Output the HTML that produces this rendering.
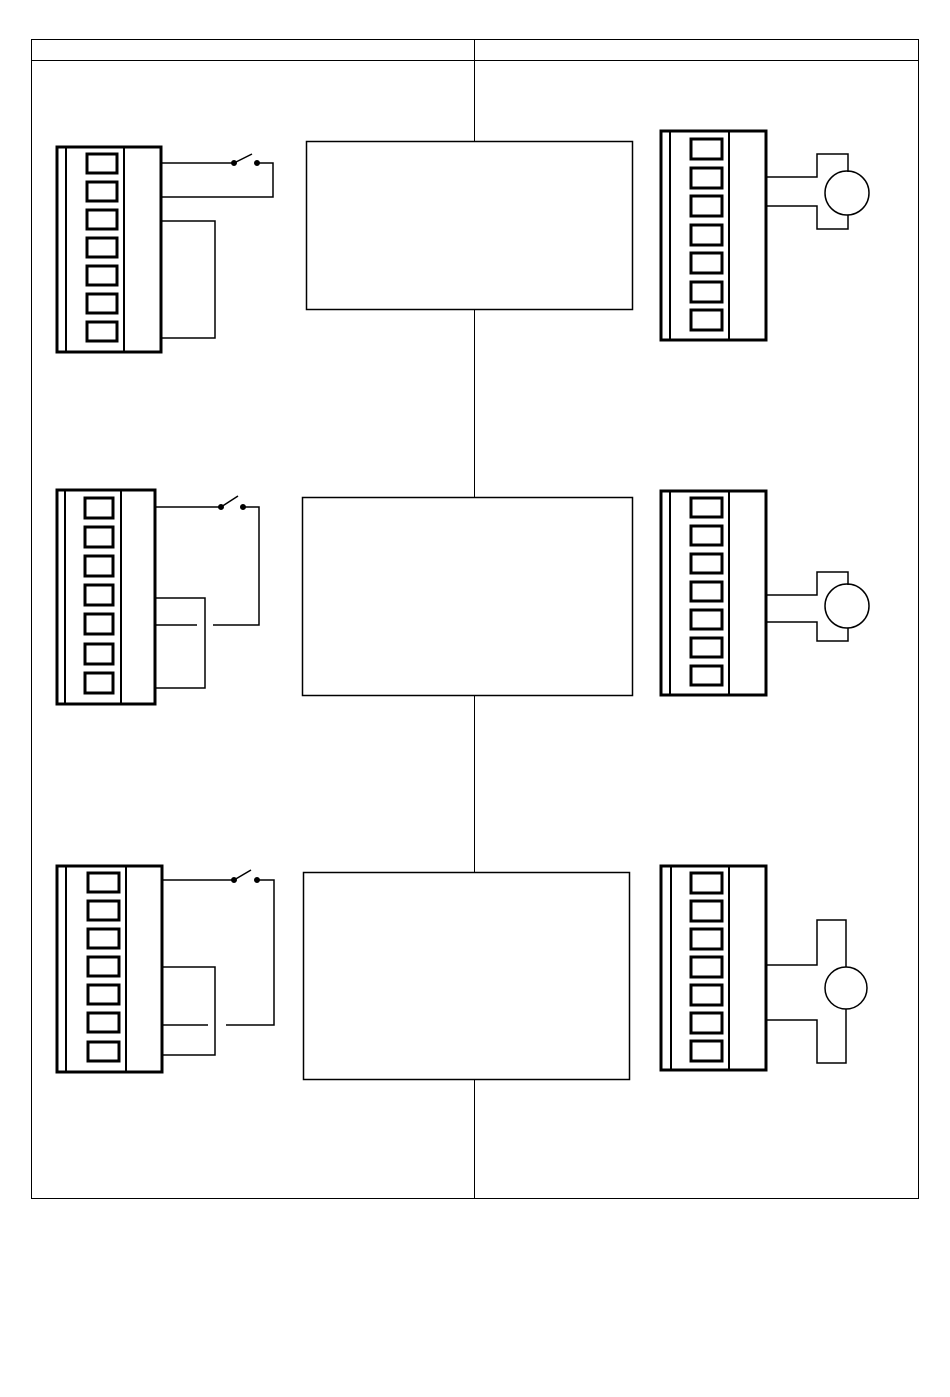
<!DOCTYPE html>
<html><head><meta charset="utf-8"><style>
html,body{margin:0;padding:0;background:#fff;}
svg{display:block;}
</style></head><body>
<svg width="950" height="1397" viewBox="0 0 950 1397" xmlns="http://www.w3.org/2000/svg" fill="none" stroke="#000">
<!-- frame -->
<rect x="31.5" y="39.5" width="887" height="1159" stroke-width="1"/>
<line x1="31" y1="60.5" x2="918" y2="60.5" stroke-width="1"/>
<line x1="474.5" y1="39" x2="474.5" y2="141" stroke-width="1"/>
<line x1="474.5" y1="309" x2="474.5" y2="497" stroke-width="1"/>
<line x1="474.5" y1="695" x2="474.5" y2="872" stroke-width="1"/>
<line x1="474.5" y1="1079" x2="474.5" y2="1198" stroke-width="1"/>
<!-- center boxes -->
<rect x="306.5" y="141.5" width="326" height="168" stroke-width="1.5"/>
<rect x="302.5" y="497.5" width="330" height="198" stroke-width="1.5"/>
<rect x="303.5" y="872.5" width="326" height="207" stroke-width="1.5"/>

<!-- LEFT BLOCK 1 -->
<g stroke-width="3">
<rect x="57" y="147" width="104" height="205"/>
<line x1="66" y1="147" x2="66" y2="352" stroke-width="2"/>
<line x1="124" y1="147" x2="124" y2="352" stroke-width="2"/>
</g>
<g stroke-width="3">
<rect x="87" y="154" width="30" height="19"/><rect x="87" y="182" width="30" height="19"/>
<rect x="87" y="210" width="30" height="19"/><rect x="87" y="238" width="30" height="19"/>
<rect x="87" y="266" width="30" height="19"/><rect x="87" y="294" width="30" height="19"/>
<rect x="87" y="322" width="30" height="19"/>
</g>
<g stroke-width="1.5">
<polyline points="162,163 234,163"/>
<line x1="234" y1="163" x2="252" y2="154"/>
<polyline points="257,163 273,163 273,197 162,197"/>
<polyline points="162,221 215,221 215,338 162,338"/>
</g>
<circle cx="234" cy="163" r="2.5" fill="#000"/><circle cx="257" cy="163" r="2.5" fill="#000"/>

<!-- LEFT BLOCK 2 -->
<g stroke-width="3">
<rect x="57" y="490" width="98" height="214"/>
<line x1="65" y1="490" x2="65" y2="704" stroke-width="2"/>
<line x1="121" y1="490" x2="121" y2="704" stroke-width="2"/>
</g>
<g stroke-width="3">
<rect x="85" y="498" width="28" height="20"/><rect x="85" y="527" width="28" height="20"/>
<rect x="85" y="556" width="28" height="20"/><rect x="85" y="585" width="28" height="20"/>
<rect x="85" y="614" width="28" height="20"/><rect x="85" y="644" width="28" height="20"/>
<rect x="85" y="673" width="28" height="20"/>
</g>
<g stroke-width="1.5">
<polyline points="156,507 221,507"/>
<line x1="221" y1="507" x2="238" y2="496"/>
<polyline points="243,507 259,507 259,625 213,625"/>
<polyline points="156,598 205,598 205,688 156,688"/>
<line x1="156" y1="625" x2="197" y2="625"/>
</g>
<circle cx="221" cy="507" r="2.5" fill="#000"/><circle cx="243" cy="507" r="2.5" fill="#000"/>

<!-- LEFT BLOCK 3 -->
<g stroke-width="3">
<rect x="57" y="866" width="105" height="206"/>
<line x1="66" y1="866" x2="66" y2="1072" stroke-width="2"/>
<line x1="126" y1="866" x2="126" y2="1072" stroke-width="2"/>
</g>
<g stroke-width="3">
<rect x="88" y="873" width="31" height="19"/><rect x="88" y="901" width="31" height="19"/>
<rect x="88" y="929" width="31" height="19"/><rect x="88" y="957" width="31" height="19"/>
<rect x="88" y="985" width="31" height="19"/><rect x="88" y="1013" width="31" height="19"/>
<rect x="88" y="1042" width="31" height="19"/>
</g>
<g stroke-width="1.5">
<polyline points="163,880 234,880"/>
<line x1="234" y1="880" x2="251" y2="870"/>
<polyline points="257,880 274,880 274,1025 226,1025"/>
<polyline points="163,967 215,967 215,1055 163,1055"/>
<line x1="163" y1="1025" x2="208" y2="1025"/>
</g>
<circle cx="234" cy="880" r="2.5" fill="#000"/><circle cx="257" cy="880" r="2.5" fill="#000"/>

<!-- RIGHT BLOCK 1 -->
<g stroke-width="3">
<rect x="661" y="131" width="105" height="209"/>
<line x1="670" y1="131" x2="670" y2="340" stroke-width="2"/>
<line x1="729" y1="131" x2="729" y2="340" stroke-width="2"/>
</g>
<g stroke-width="3">
<rect x="691" y="139" width="31" height="20"/><rect x="691" y="168" width="31" height="20"/>
<rect x="691" y="196" width="31" height="20"/><rect x="691" y="225" width="31" height="20"/>
<rect x="691" y="253" width="31" height="20"/><rect x="691" y="282" width="31" height="20"/>
<rect x="691" y="310" width="31" height="20"/>
</g>
<g stroke-width="1.5">
<polyline points="766,177 817,177 817,154 848,154 848,172"/>
<polyline points="766,206 817,206 817,229 848,229 848,215"/>
<circle cx="847" cy="193" r="22"/>
</g>

<!-- RIGHT BLOCK 2 -->
<g stroke-width="3">
<rect x="661" y="491" width="105" height="204"/>
<line x1="670" y1="491" x2="670" y2="695" stroke-width="2"/>
<line x1="729" y1="491" x2="729" y2="695" stroke-width="2"/>
</g>
<g stroke-width="3">
<rect x="691" y="498" width="31" height="19"/><rect x="691" y="526" width="31" height="19"/>
<rect x="691" y="554" width="31" height="19"/><rect x="691" y="582" width="31" height="19"/>
<rect x="691" y="610" width="31" height="19"/><rect x="691" y="638" width="31" height="19"/>
<rect x="691" y="666" width="31" height="19"/>
</g>
<g stroke-width="1.5">
<polyline points="766,595 817,595 817,572 848,572 848,585"/>
<polyline points="766,622 817,622 817,641 848,641 848,628"/>
<circle cx="847" cy="606" r="22"/>
</g>

<!-- RIGHT BLOCK 3 -->
<g stroke-width="3">
<rect x="661" y="866" width="105" height="204"/>
<line x1="671" y1="866" x2="671" y2="1070" stroke-width="2"/>
<line x1="729" y1="866" x2="729" y2="1070" stroke-width="2"/>
</g>
<g stroke-width="3">
<rect x="691" y="873" width="31" height="20"/><rect x="691" y="901" width="31" height="20"/>
<rect x="691" y="929" width="31" height="20"/><rect x="691" y="957" width="31" height="20"/>
<rect x="691" y="985" width="31" height="20"/><rect x="691" y="1013" width="31" height="20"/>
<rect x="691" y="1041" width="31" height="20"/>
</g>
<g stroke-width="1.5">
<polyline points="766,965 817,965 817,920 846,920 846,967"/>
<polyline points="766,1020 817,1020 817,1063 846,1063 846,1009"/>
<circle cx="846" cy="988" r="21"/>
</g>
</svg>
</body></html>
